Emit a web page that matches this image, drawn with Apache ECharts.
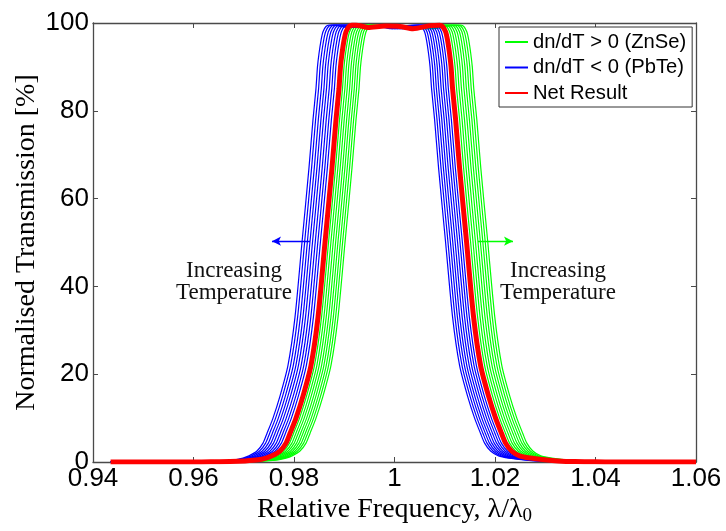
<!DOCTYPE html>
<html>
<head>
<meta charset="utf-8">
<script src="https://cdn.jsdelivr.net/npm/echarts@6/dist/echarts.min.js"></script>
<style>
html,body{margin:0;padding:0;background:#fff;}
#chart{width:726px;height:531px;}
</style>
</head>
<body>
<div id="chart"></div>
<script>
// Transmission levels (%) at which the edges of the net-result curve were read
const levels = [0, 0.05, 0.1, 0.25, 0.5, 0.9, 1.4, 2.5, 4.3, 6.5, 10, 15, 22, 33, 50, 67, 78, 85, 90, 93, 96, 98, 99.2, 99.5];
// Rising (left) edge of the net-result (red) curve, λ/λ0 at each level
const redLeft = [0.96129, 0.96428, 0.96726, 0.97025, 0.97284, 0.97443, 0.97562, 0.97721, 0.97841, 0.97920, 0.98040, 0.98179,
                 0.98338, 0.98478, 0.98617, 0.98756, 0.98836, 0.98895, 0.98925, 0.98955, 0.98995, 0.99035, 0.99094, 0.99154];
// Falling (right) edge of the net-result curve, λ/λ0 at each level
const redRight = [1.04388, 1.03990, 1.03592, 1.03254, 1.02995, 1.02696, 1.02489, 1.02330, 1.02211, 1.02131, 1.02012, 1.01872,
                  1.01713, 1.01574, 1.01435, 1.01295, 1.01216, 1.01156, 1.01126, 1.01096, 1.01057, 1.01017, 1.00957, 1.00897];
// Pass-band ripple on top
const plateauX = [0.99234, 0.99473, 0.99811, 1.00110, 1.00368, 1.00706];
const plateauT = [99.5, 99.0, 99.3, 99.2, 98.7, 99.4];
// Edge offsets of each temperature curve relative to the net result (λ/λ0)
const blueShiftLeft  = [-0.00458, -0.00406, -0.00352, -0.00300, -0.00249, -0.00195, -0.00143, -0.00092];
const blueShiftRight = [-0.00418, -0.00370, -0.00322, -0.00275, -0.00227, -0.00179, -0.00131, -0.00084];
const greenShiftLeft  = [0.00070, 0.00117, 0.00163, 0.00211, 0.00257, 0.00304, 0.00350, 0.00398];
const greenShiftRight = [0.00080, 0.00129, 0.00177, 0.00227, 0.00275, 0.00324, 0.00372, 0.00422];
const xStart = 0.9435, xEnd = 1.06;
// Axis ticks
const xTicks = [0.94, 0.96, 0.98, 1.00, 1.02, 1.04, 1.06];
const yTicks = [0, 20, 40, 60, 80, 100];
// Legend names
const names = ['dn/dT > 0 (ZnSe)', 'dn/dT < 0 (PbTe)', 'Net Result'];
// Annotations (data coordinates)
const blueArrow = [[0.98318, 50.3], [0.97562, 50.3]];
const greenArrow = [[1.01662, 50.3], [1.02358, 50.3]];
const textLeft = [0.96806, 41.0];
const textRight = [1.03254, 41.0];

function curve(sL, sR) {
  const pts = [[xStart, 0]];
  for (let i = 0; i < levels.length; i++) pts.push([redLeft[i] + sL, levels[i]]);
  const m = (sL + sR) / 2;
  for (let j = 0; j < plateauX.length; j++) pts.push([plateauX[j] + m, plateauT[j]]);
  for (let i = levels.length - 1; i >= 0; i--) pts.push([redRight[i] + sR, levels[i]]);
  pts.push([xEnd, 0]);
  return pts;
}

const GREEN = '#00ff00', BLUE = '#0000ff', RED = '#ff0000';
const series = [];
function lineSeries(name, color, width, data) {
  return {
    type: 'line', name: name, data: data, showSymbol: false, symbol: 'none',
    smooth: 0.25, animation: false, silent: true,
    lineStyle: { color: color, width: width }, itemStyle: { color: color }
  };
}
for (let k = 0; k < greenShiftLeft.length; k++) series.push(lineSeries(names[0], GREEN, 1.2, curve(greenShiftLeft[k], greenShiftRight[k])));
for (let k = 0; k < blueShiftLeft.length; k++) series.push(lineSeries(names[1], BLUE, 1.2, curve(blueShiftLeft[k], blueShiftRight[k])));
series.push(lineSeries(names[2], RED, 5, curve(0, 0)));

function arrowLine(coords, color) {
  return {
    silent: true, animation: false, symbol: ['none', 'arrow'], symbolSize: [7, 9],
    label: { show: false }, lineStyle: { color: color, width: 1.3, type: 'solid' },
    data: [[{ coord: coords[0] }, { coord: coords[1] }]]
  };
}
series[greenShiftLeft.length].markLine = arrowLine(greenArrow, GREEN);
series[greenShiftLeft.length + blueShiftLeft.length - 1].markLine = arrowLine(blueArrow, BLUE);

const axisColor = '#4a4a4a';
const xLab = v => String(Math.round(v * 100) / 100);
const chart = echarts.init(document.getElementById('chart'), null, { renderer: 'canvas' });
const option = {
  backgroundColor: '#fff',
  animation: false,
  grid: { left: 93, right: 30, top: 23, bottom: 67 },
  legend: {
    data: names, orient: 'vertical', left: 499, top: 27, icon: 'rect',
    itemWidth: 23, itemHeight: 2, itemGap: 5.5, itemTextGap: 3,
    padding: [5, 6, 4, 6], backgroundColor: '#fff', borderColor: '#333', borderWidth: 1,
    selectedMode: false,
    textStyle: { fontFamily: 'Liberation Sans', fontSize: 20.2, color: '#000', lineHeight: 20 }
  },
  xAxis: [{
    type: 'value', min: 0.94, max: 1.06, interval: 0.02, position: 'bottom',
    name: '{n|Relative Frequency, λ/λ}{s|0}', nameLocation: 'middle', nameGap: 31, nameMoveOverlap: false,
    nameTextStyle: { rich: {
      n: { fontFamily: 'Liberation Serif', fontSize: 28, color: '#000' },
      s: { fontFamily: 'Liberation Serif', fontSize: 19, color: '#000', padding: [14, 0, 0, 0] } } },
    axisLine: { show: true, onZero: false, lineStyle: { color: axisColor, width: 1.3 } },
    axisTick: { show: true, inside: true, length: 5, lineStyle: { color: axisColor } },
    axisLabel: { fontFamily: 'Liberation Sans', fontSize: 26, color: '#000', margin: 4, formatter: xLab },
    splitLine: { show: false }
  }, {
    type: 'value', min: 0.94, max: 1.06, interval: 0.02, position: 'top',
    axisLine: { show: true, onZero: false, lineStyle: { color: axisColor, width: 1.3 } },
    axisTick: { show: true, inside: true, length: 5, lineStyle: { color: axisColor } },
    axisLabel: { show: false }, splitLine: { show: false }
  }],
  yAxis: [{
    type: 'value', min: 0, max: 100, interval: 20, position: 'left',
    name: 'Normalised Transmission [%]', nameLocation: 'middle', nameGap: 52, nameMoveOverlap: false,
    nameTextStyle: { fontFamily: 'Liberation Serif', fontSize: 28, color: '#000' },
    axisLine: { show: true, onZero: false, lineStyle: { color: axisColor, width: 1.3 } },
    axisTick: { show: true, inside: true, length: 5, lineStyle: { color: axisColor } },
    axisLabel: { fontFamily: 'Liberation Sans', fontSize: 26, color: '#000', margin: 4 },
    splitLine: { show: false }
  }, {
    type: 'value', min: 0, max: 100, interval: 20, position: 'right',
    axisLine: { show: true, onZero: false, lineStyle: { color: axisColor, width: 1.3 } },
    axisTick: { show: true, inside: true, length: 5, lineStyle: { color: axisColor } },
    axisLabel: { show: false }, splitLine: { show: false }
  }],
  series: series
};
chart.setOption(option);

function placeText() {
  const pL = chart.convertToPixel({ xAxisIndex: 0, yAxisIndex: 0 }, textLeft);
  const pR = chart.convertToPixel({ xAxisIndex: 0, yAxisIndex: 0 }, textRight);
  const style = { text: 'Increasing\nTemperature', fontFamily: 'Liberation Serif', fontSize: 23,
    lineHeight: 22, fill: '#111', align: 'center', verticalAlign: 'middle' };
  chart.setOption({ graphic: [
    { type: 'text', x: pL[0], y: pL[1], silent: true, z: 10, style: Object.assign({}, style) },
    { type: 'text', x: pR[0], y: pR[1], silent: true, z: 10, style: Object.assign({}, style) }
  ] });
}
placeText();
</script>
</body>
</html>
